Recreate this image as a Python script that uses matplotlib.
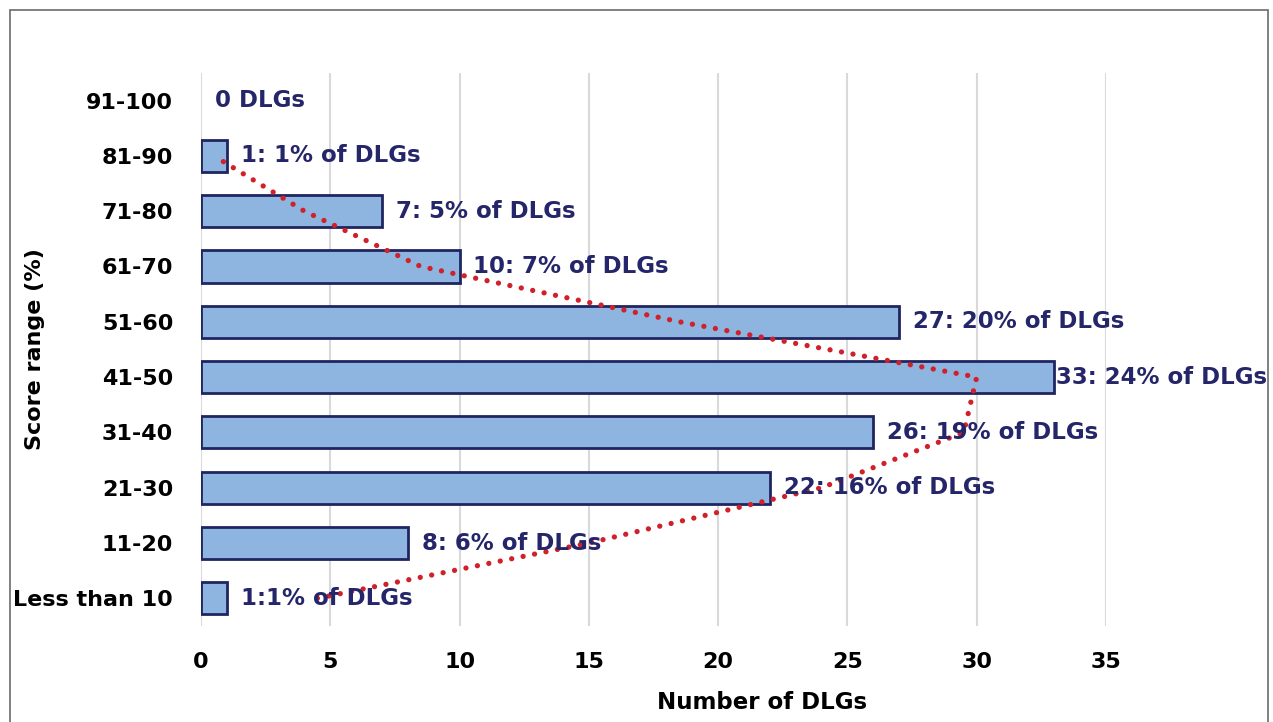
import numpy as np
import pandas as pd
import matplotlib
matplotlib.use("Agg")
import matplotlib.pyplot as plt
from matplotlib.patches import Rectangle

# categories listed bottom -> top
ranges = ["Less than 10", "11-20", "21-30", "31-40", "41-50",
          "51-60", "61-70", "71-80", "81-90", "91-100"]
counts = [1, 8, 22, 26, 33, 27, 10, 7, 1, 0]
labels = ["1:1% of DLGs", "8: 6% of DLGs", "22: 16% of DLGs", "26: 19% of DLGs",
          "33: 24% of DLGs", "27: 20% of DLGs", "10: 7% of DLGs", "7: 5% of DLGs",
          "1: 1% of DLGs", "0 DLGs"]
xticks = [0, 5, 10, 15, 20, 25, 30, 35]

navy = "#25256A"
plt.rcParams['font.family'] = ['DejaVu Sans']

fig = plt.figure(figsize=(12.73, 7.22), dpi=100)
ax = fig.add_axes([0.1579, 0.133, 0.7109, 0.766])

# outer chart border
fig.patches.append(Rectangle((10/1273, -0.01), 1258/1273, 1 - 10/722 + 0.01,
                             transform=fig.transFigure, fill=False,
                             edgecolor="#6b6b6b", lw=1.2))

y = np.arange(len(ranges))
lws = [2 if c > 0 else 0 for c in counts]
ax.barh(y, counts, height=0.58, color="#8EB4E0", edgecolor="#1F2560",
        linewidth=lws, zorder=2)

# 2-period moving average trendline
ma = pd.Series(counts).rolling(2).mean().to_numpy()[1:]
ax.plot(ma, y[:-1], color="#D0202A", lw=3.8, linestyle=(0, (0.01, 2.2)),
        dash_capstyle="round", zorder=3)

for yi, c, lab in zip(y, counts, labels):
    pad = 1 if c == max(counts) else 10
    ax.annotate(lab, (c, yi), xytext=(pad, 0), textcoords="offset points",
                ha="left", va="center", fontsize=16.5, fontweight="bold",
                color=navy, clip_on=False, zorder=4)

ax.set_xlim(0, 35)
ax.set_ylim(-0.5, 9.5)
ax.set_xticks(xticks)
ax.set_yticks(y)
ax.set_yticklabels(ranges)
ax.grid(axis="x", color="#D9D9D9", lw=1.5, zorder=0)
ax.set_axisbelow(True)
for s in ax.spines.values():
    s.set_visible(False)
ax.tick_params(length=0, labelsize=16, pad=20)
for t in ax.get_xticklabels() + ax.get_yticklabels():
    t.set_fontweight("bold")
    t.set_color("black")
ax.tick_params(axis="x", pad=19)

ax.set_xlabel("Number of DLGs", fontsize=16.5, fontweight="bold")
ax.xaxis.set_label_coords(0.62, -0.118)
ax.set_ylabel("Score range (%)", fontsize=16, fontweight="bold")
ax.yaxis.set_label_coords(-0.172, 0.5)

fig.savefig("out.png", dpi=100)
